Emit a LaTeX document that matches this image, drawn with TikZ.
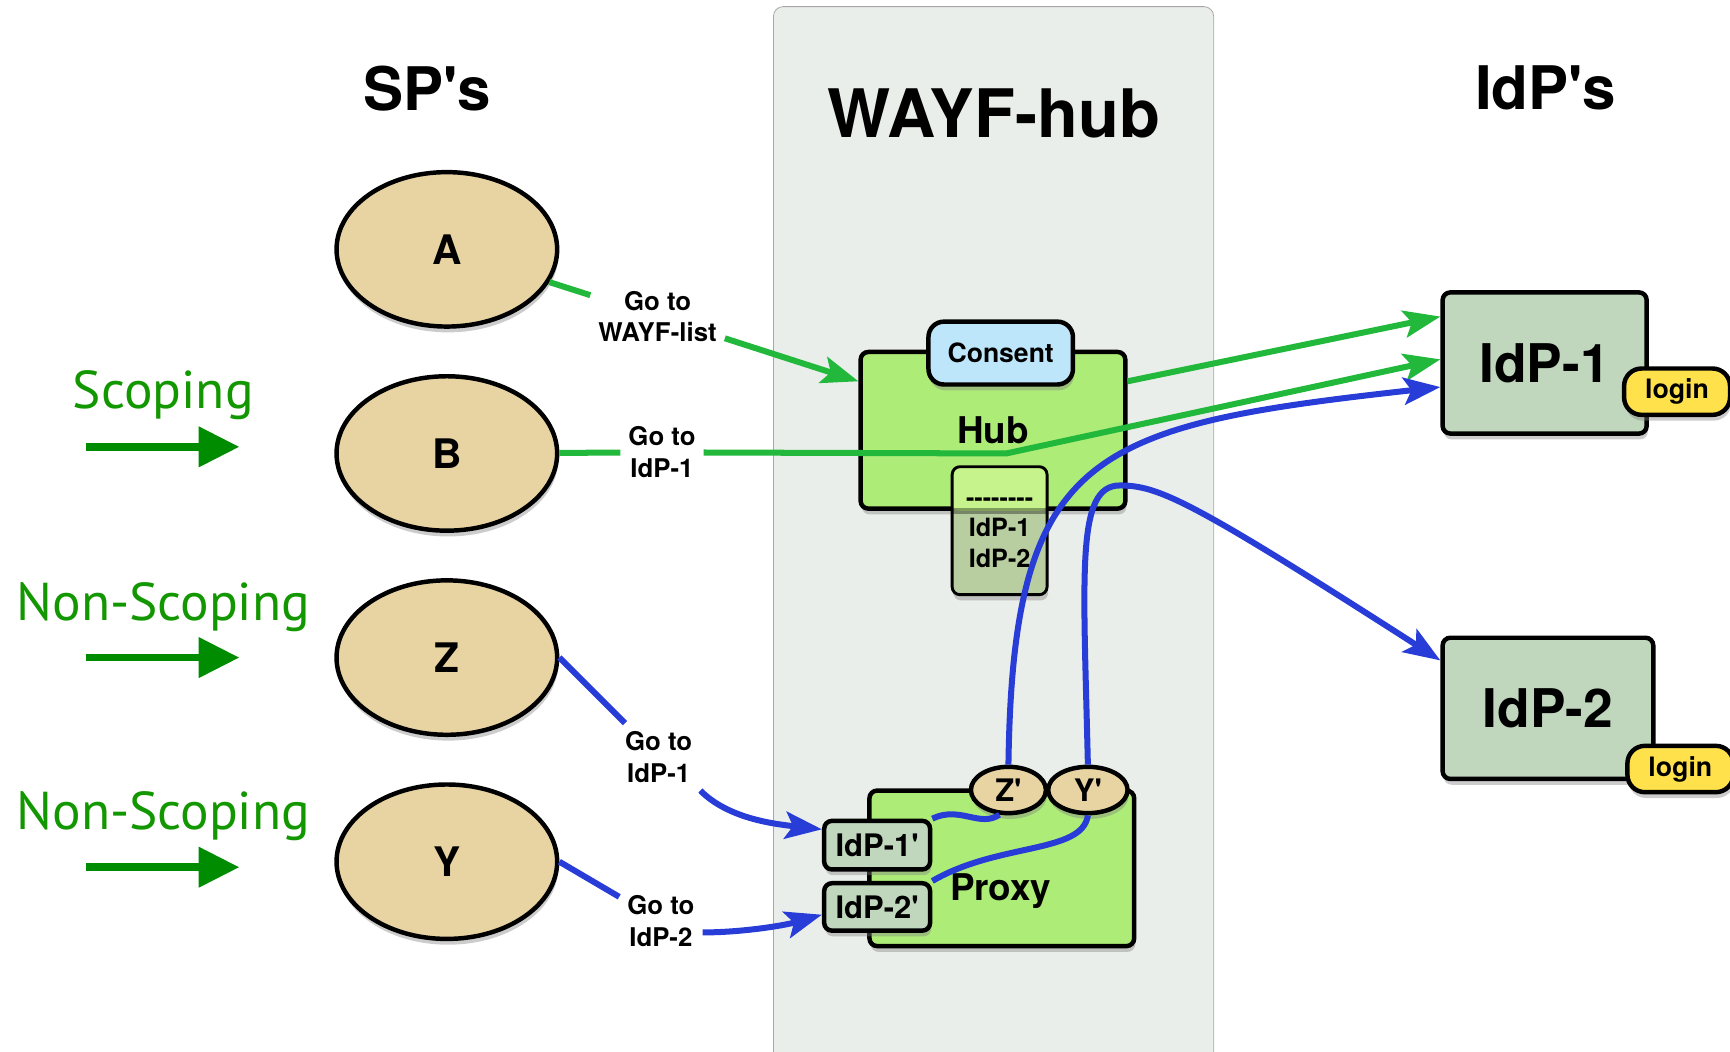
\documentclass[tikz,border=0pt]{standalone}
\usepackage{fontspec}
\setmainfont{TeX Gyre Heros}[Ligatures=TeXOff]
\newfontfamily\gillfont{PT Sans}
\usetikzlibrary{arrows.meta, shapes.geometric, shadows}
\definecolor{sptan}{RGB}{232,212,162}
\definecolor{hubgreen}{RGB}{174,236,120}
\definecolor{listgreen}{RGB}{198,243,140}
\definecolor{listgray}{RGB}{184,206,160}
\definecolor{consentblue}{RGB}{190,230,250}
\definecolor{idpgray}{RGB}{192,215,190}
\definecolor{loginyellow}{RGB}{255,226,75}
\definecolor{panelgray}{RGB}{233,238,234}
\definecolor{linegreen}{RGB}{34,184,60}
\definecolor{lineblue}{RGB}{40,60,215}
\definecolor{scopegreen}{RGB}{0,140,0}
\tikzset{>={Stealth[length=19pt,width=14pt,inset=4pt]}}
\tikzset{
  dropsh/.style={drop shadow={opacity=0.4,shadow xshift=0.6pt,shadow yshift=-3pt}},
  title/.style={font=\fontsize{31}{31}\selectfont\bfseries},
  spnode/.style={ellipse, draw, line width=2.3pt, fill=sptan, inner sep=0pt,
    minimum width=4cm, minimum height=2.8cm, dropsh, font=\fontsize{21}{21}\selectfont\bfseries},
  boxnode/.style={rectangle, draw, line width=2.3pt, rounded corners=4pt, dropsh},
  idpbox/.style={boxnode, fill=idpgray, font=\fontsize{27.5}{27.5}\selectfont\bfseries},
  loginbox/.style={boxnode, fill=loginyellow, rounded corners=9pt, minimum width=1.92cm,
    minimum height=0.84cm, font=\fontsize{13.8}{13.8}\selectfont\bfseries},
  golabel/.style={fill=white, inner sep=4pt, align=center, font=\fontsize{13.3}{16.4}\selectfont\bfseries},
  scopelabel/.style={text=scopegreen!90!lime, font=\fontsize{27.5}{27.5}\gillfont\selectfont},
  fatarrow/.style={-{Triangle[length=21pt,width=20pt]}, line width=4pt, scopegreen},
  greenline/.style={linegreen, line width=3.1pt},
  blueline/.style={lineblue, line width=3.1pt}
}
\begin{document}
\begin{tikzpicture}[x=0.02cm, y=-0.02cm]
\useasboundingbox (0,0) rectangle (1568,953);
\draw[fill=panelgray, draw=gray!70, rounded corners=5pt] (701,6) rectangle (1100,990);
\node[title] (sps) at (387,80) {SP's};
\node[title, font=\fontsize{34.5}{34.5}\selectfont\bfseries] (wayf) at (901,103) {WAYF-hub};
\node[title] (idps) at (1401,80) {IdP's};

% service providers
\foreach \n/\y in {A/226, B/411, Z/596, Y/781}
  \node[spnode] (\n) at (405,\y) {\n};

\foreach \t/\yl/\ya [count=\i] in {Scoping/370/405, Non-Scoping/562/596, Non-Scoping/752/786}{
  \node[scopelabel, anchor=base] (scope\i) at (148,\yl) {\t};
  \coordinate (fat\i) at (78,\ya);
  \draw[fatarrow] (fat\i) -- ++(139,0);
}

% hub
\node[boxnode, fill=hubgreen, minimum width=4.8cm, minimum height=2.84cm,
  font=\fontsize{19}{19}\selectfont\bfseries] (hub) at (900,390) {Hub};
\node[boxnode, fill=listgray, line width=1.5pt, minimum width=1.72cm, minimum height=2.32cm, align=center,
  font=\fontsize{13}{15.9}\selectfont\bfseries,
  path picture={
    \fill[listgreen] (path picture bounding box.north west) rectangle (path picture bounding box.east |- hub.south);
    \draw[black, opacity=0.35, line width=3pt] (path picture bounding box.west |- hub.south) -- (path picture bounding box.east |- hub.south);
  }] (lst) at (906,481) {\strut--------\\\strut IdP-1\\\strut IdP-2};
\node[boxnode, fill=consentblue, rounded corners=8pt, minimum width=2.62cm, minimum height=1.14cm,
  font=\fontsize{13.7}{13.7}\selectfont\bfseries] (consent) at (907,320) {Consent};

% proxy
\node[boxnode, fill=hubgreen, minimum width=4.8cm, minimum height=2.82cm] (proxy) at (908,787) {};
\node[font=\fontsize{19}{19}\selectfont\bfseries] (proxylbl) at (907,808) {Proxy};
\node[idpbox, minimum width=1.92cm, minimum height=0.88cm, font=\fontsize{16}{16}\selectfont\bfseries]
  (ip1) at (795,766) {IdP-1'};
\node[idpbox, minimum width=1.92cm, minimum height=0.86cm, font=\fontsize{16}{16}\selectfont\bfseries]
  (ip2) at (795,822) {IdP-2'};
\node[spnode, minimum width=1.36cm, minimum height=0.84cm, font=\fontsize{16}{16}\selectfont\bfseries]
  (Zp) at (914,716) {Z'};
\node[spnode, minimum width=1.44cm, minimum height=0.84cm, font=\fontsize{16}{16}\selectfont\bfseries]
  (Yp) at (986,716) {Y'};

% identity providers
\node[idpbox, minimum width=3.7cm, minimum height=2.56cm] (idp1) at (1400,329) {IdP-1};
\node[loginbox] (login1) at (1520,355) {login};
\node[idpbox, minimum width=3.82cm, minimum height=2.56cm] (idp2) at (1403,642) {IdP-2};
\node[loginbox] (login2) at (1523,697) {login};

% labels on the connectors
\node[golabel] (gA) at (596,287) {Go to\\WAYF-list};
\node[golabel] (gB) at (600,410) {Go to\\IdP-1};
\node[golabel] (gZ) at (597,686) {Go to\\IdP-1};
\node[golabel] (gY) at (599,835) {Go to\\IdP-2};
\coordinate (bend) at (912,411);
\coordinate (ytop) at (1015,440);

% scoping
\draw[greenline] (A) -- (gA);
\draw[greenline, ->] (gA) -- (hub.160);
\draw[greenline] (B) -- (gB);
\draw[greenline, ->] (gB) -- (bend) -- (idp1.178);
\draw[greenline, ->] (hub.20) -- (idp1.156);

% non-scoping
\draw[blueline] (Z.east) -- (gZ);
\draw[blueline, ->] (gZ.south east) .. controls +(25,25) and +(-45,-5) .. (ip1.164);
\draw[blueline] (Y.east) -- (gY);
\draw[blueline, ->] (gY.-15) .. controls +(35,0) and +(-35,10) .. (ip2.188);
\draw[blueline] (ip1.north east) .. controls +(25,-12) and +(-18,12) .. (Zp.250);
\draw[blueline] (ip2.north east) .. controls +(60,-35) and +(-5,35) .. (Yp.south);
\draw[blueline, ->] (Zp.north) .. controls +(4,-285) and +(-316,35) .. (idp1.193);
\draw[blueline, ->] (Yp.north) .. controls +(-4,-175) and +(-40,0) .. (ytop)
  .. controls +(35,0) and +(-226,-145) .. (idp2.156);
\end{tikzpicture}
\end{document}
